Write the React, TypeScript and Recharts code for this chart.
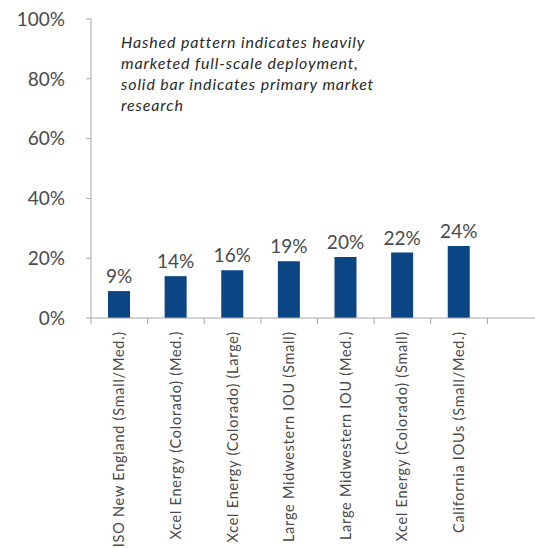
import React from "react";
import { BarChart, Bar, XAxis, YAxis, LabelList } from "recharts";

const categories = [
  "ISO New England (Small/Med.)",
  "Xcel Energy (Colorado) (Med.)",
  "Xcel Energy (Colorado) (Large)",
  "Large Midwestern IOU (Small)",
  "Large Midwestern IOU (Med.)",
  "Xcel Energy (Colorado) (Small)",
  "California IOUs (Small/Med.)",
  "",
];
const values: (number | null)[] = [9, 14, 16, 19, 20.4, 21.9, 24.1, null];
const valueLabels = ["9%", "14%", "16%", "19%", "20%", "22%", "24%", ""];
const yTicks = [0, 20, 40, 60, 80, 100];
const note = [
  "Hashed pattern indicates heavily",
  "marketed full-scale deployment,",
  "solid bar indicates primary market",
  "research",
];

const data = categories.map((c, i) => ({ name: c || " ", value: values[i], label: valueLabels[i] }));

const FONT = "Lato, 'Open Sans', sans-serif";
const TEXT = "#4a4a4a";
const AXIS = "#a6a6a6";

const XTick = (props: any) => {
  const { x, y, payload } = props;
  const half = payload && typeof payload.offset === "number" && payload.offset > 0 ? payload.offset : 28.3;
  return (
    <g transform={`translate(${x},${y})`}>
      <line x1={-half} y1={0} x2={-half} y2={6} stroke={AXIS} strokeWidth={1} />
      <text
        x={-13}
        y={5}
        transform="rotate(-90)"
        textAnchor="end"
        fontSize={14.5}
        letterSpacing={0.75}
        fontFamily={FONT}
        fill={TEXT}
      >
        {payload.value}
      </text>
    </g>
  );
};

export default function App() {
  return (
    <div style={{ position: "absolute", left: 0, top: 0, width: 535, height: 548, background: "#fff", overflow: "hidden" }}>
      <BarChart
        width={535}
        height={548}
        data={data}
        margin={{ top: 19, right: -9, left: 0, bottom: 0 }}
      >
        <YAxis
          width={91}
          domain={[0, 100]}
          ticks={yTicks}
          tickFormatter={(v: number) => `${v}%`}
          axisLine={{ stroke: AXIS }}
          tickLine={{ stroke: AXIS }}
          tickSize={5}
          tickMargin={21}
          tick={{ fontSize: 19, fill: TEXT, fontFamily: FONT }}
          interval={0}
        />
        <XAxis
          dataKey="name"
          height={230}
          interval={0}
          axisLine={{ stroke: AXIS }}
          tickLine={false}
          tickSize={0}
          tickMargin={0}
          tick={<XTick />}
        />
        <Bar dataKey="value" fill="#0b4583" barSize={22} isAnimationActive={false}>
          <LabelList
            dataKey="label"
            position="top"
            offset={8}
            fontSize={19}
            fill={TEXT}
            fontFamily={FONT}
          />
        </Bar>
      </BarChart>
      <div
        style={{
          position: "absolute",
          left: 121,
          top: 31,
          fontFamily: FONT,
          fontStyle: "italic",
          fontSize: 16,
          letterSpacing: 0.85,
          lineHeight: "21px",
          color: "#2a2a2a",
          whiteSpace: "pre",
        }}
      >
        {note.map((l, i) => (
          <div key={i}>{l}</div>
        ))}
      </div>
    </div>
  );
}
